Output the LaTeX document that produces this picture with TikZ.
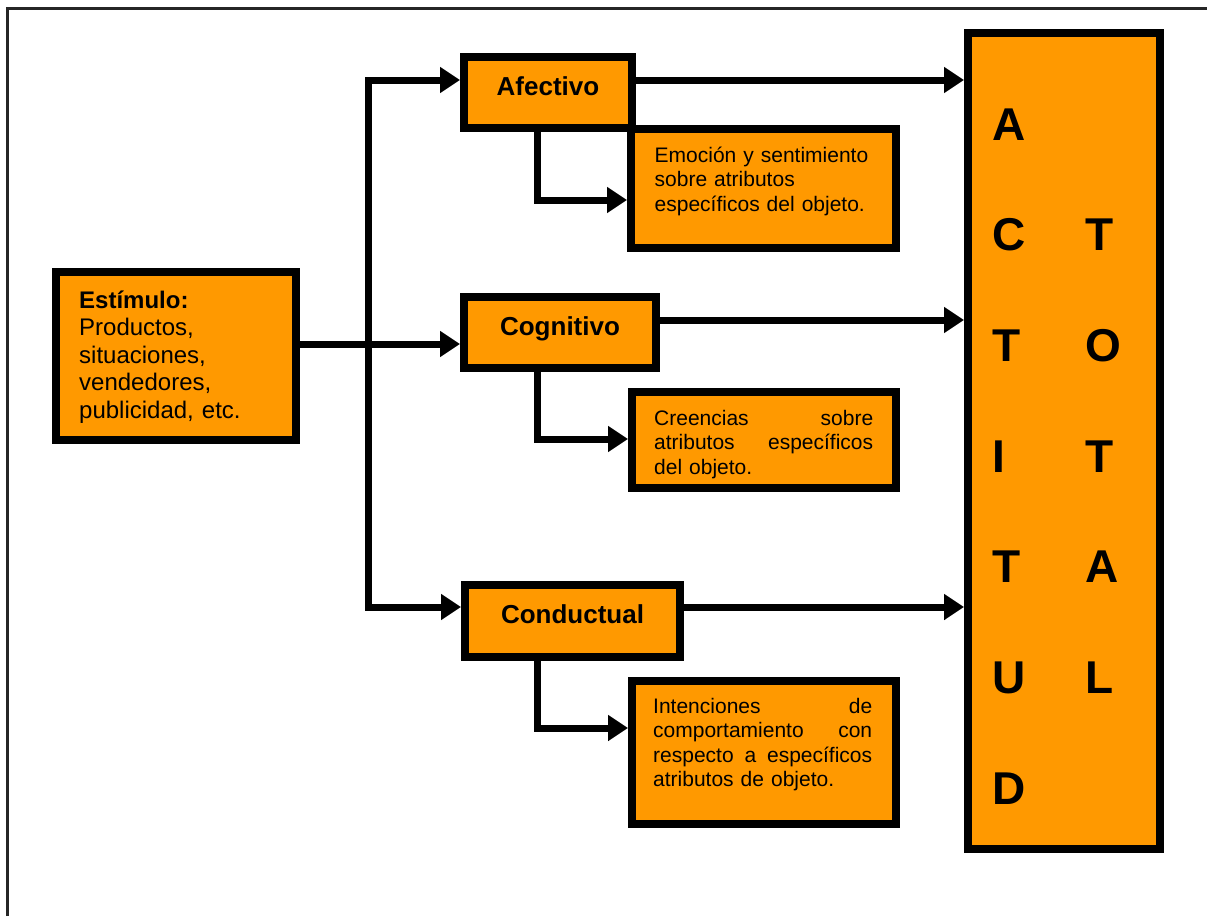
\documentclass[tikz,border=0pt]{standalone}
\usepackage{fontspec}
\setmainfont{Liberation Sans}
\usetikzlibrary{arrows.meta}
\definecolor{org}{RGB}{255,153,0}
\begin{document}
\begin{tikzpicture}[x=1pt,y=-1pt,
  box/.style={draw=black, line width=8pt, fill=org, inner sep=0pt, line join=miter},
  lbl/.style={font=\fontsize{26}{30}\selectfont\bfseries, text height=19pt, text depth=14pt},
  txt/.style={inner sep=0pt, anchor=base west, text width=219pt, align=left, font=\fontsize{21}{24.5}\selectfont},
  big/.style={inner sep=0pt, anchor=base west, font=\fontsize{46}{50}\selectfont\bfseries},
  conn/.style={line width=7pt, line join=miter, -{Triangle[length=20pt,width=25pt]}},
  conntwo/.style={line width=7pt, line join=miter, {Triangle[length=20pt,width=25pt]}-{Triangle[length=20pt,width=25pt]}}
  ]
\useasboundingbox (0,0) rectangle (1207,916);
\fill[white] (0,0) rectangle (1207,916);
\draw[line width=2.5pt, black!85] (7.5,916) -- (7.5,8.3) -- (1207,8.3);

% boxes
\node[box, minimum width=240pt, minimum height=168pt] (est) at (176,356) {};
\node[box, lbl, minimum width=168pt, minimum height=71pt] (afe) at (548,92.5) {Afectivo};
\node[box, minimum width=265pt, minimum height=119pt] (emo) at (763.5,188.5) {};
\node[box, lbl, minimum width=192pt, minimum height=71pt] (cog) at (560,332.5) {Cognitivo};
\node[box, minimum width=264pt, minimum height=96pt] (cre) at (764,440) {};
\node[box, lbl, minimum width=215pt, minimum height=72pt] (con) at (572.5,621) {Conductual};
\node[box, minimum width=264pt, minimum height=143pt] (inte) at (764,752.5) {};
\node[box, minimum width=192pt, minimum height=816pt] (act) at (1064,441) {};

% texts
\node[txt, text width=210pt, font=\fontsize{24}{27.5}\selectfont] (estT) at (79,308)
  {\textbf{Estímulo:}\\Productos,\\situaciones,\\vendedores,\\publicidad, etc.};
\node[txt] (emoT) at (654.5,162) {Emoción y sentimiento\\sobre atributos\\específicos del objeto.};
\node[txt] (creT) at (654,425) {Creencias\hfill sobre\\atributos\hfill específicos\\del objeto.};
\node[txt] (intT) at (653,713) {Intenciones\hfill de\\comportamiento\hfill con\\respecto\hfill a\hfill específicos\\atributos de objeto.};

% ACTITUD TOTAL
\node[big] (a1) at (992,140) {A};
\node[big] (a2) at (992,250.7) {C};
\node[big] (a3) at (992,361.3) {T};
\node[big] (a4) at (992,472) {I};
\node[big] (a5) at (992,582.7) {T};
\node[big] (a6) at (992,693.3) {U};
\node[big] (a7) at (992,804) {D};
\node[big] (t1) at (1085,250.7) {T};
\node[big] (t2) at (1085,361.3) {O};
\node[big] (t3) at (1085,472) {T};
\node[big] (t4) at (1085,582.7) {A};
\node[big] (t5) at (1085,693.3) {L};

% connector coordinates
\coordinate (tTop) at (368,80);
\coordinate (tBot) at (368,607);
\coordinate (eArm) at (368,344);
\coordinate (cArm) at (800,320);
\coordinate (b1) at (537,200);
\coordinate (b2) at (537,439);
\coordinate (b3) at (537,728);

\draw[conntwo] (afe.west |- tTop) -- (tTop) -- (tBot) -- (con.west |- tBot);
\draw[conn] (est.east |- eArm) -- (cog.west |- eArm);
\draw[conn] (afe.east |- tTop) -- (act.west |- tTop);
\draw[conn] (cog.east |- cArm) -- (act.west |- cArm);
\draw[conn] (con.east |- tBot) -- (act.west |- tBot);
\draw[conn] (afe.south -| b1) -- (b1) -- (emo.west |- b1);
\draw[conn] (cog.south -| b2) -- (b2) -- (cre.west |- b2);
\draw[conn] (con.south -| b3) -- (b3) -- (inte.west |- b3);
\end{tikzpicture}
\end{document}
